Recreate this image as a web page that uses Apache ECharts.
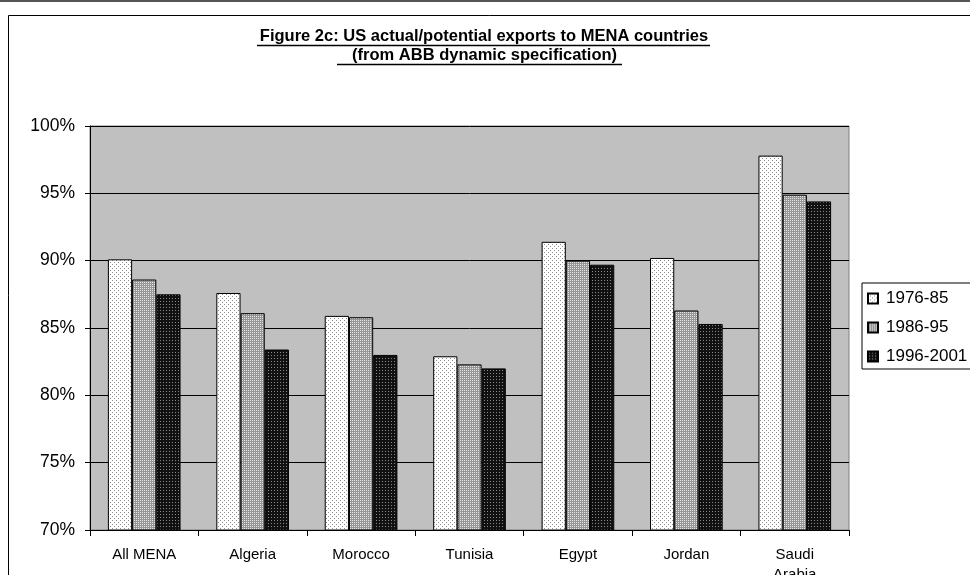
<!DOCTYPE html>
<html>
<head>
<meta charset="utf-8">
<script src="https://cdn.jsdelivr.net/npm/echarts@6/dist/echarts.min.js"></script>
<style>
  html, body { margin: 0; padding: 0; background: #fff; }
  #chart { width: 970px; height: 575px; }
</style>
</head>
<body>
<div id="chart"></div>
<script>
  const categories = ['All MENA', 'Algeria', 'Morocco', 'Tunisia', 'Egypt', 'Jordan', 'Saudi\nArabia'];
  const seriesNames = ['1976-85', '1986-95', '1996-2001'];
  const period1 = [90.1, 87.6, 85.9, 82.9, 91.4, 90.2, 97.8];
  const period2 = [88.6, 86.1, 85.8, 82.3, 90.0, 86.3, 94.9];
  const period3 = [87.5, 83.4, 83.0, 82.0, 89.7, 85.3, 94.4];
  const yMin = 70;
  const yMax = 100;
  const yStep = 5;

  // small dotted fills, like the old spreadsheet patterns
  function makePattern(bg, dot, size, dots) {
    const c = document.createElement('canvas');
    c.width = size;
    c.height = size;
    const ctx = c.getContext('2d');
    ctx.fillStyle = bg;
    ctx.fillRect(0, 0, size, size);
    ctx.fillStyle = dot;
    dots.forEach((p) => ctx.fillRect(p[0], p[1], 1, 1));
    return { image: c, repeat: 'repeat' };
  }

  const fills = [
    makePattern('#ffffff', '#8c8c8c', 4, [[0, 0], [2, 2]]),
    makePattern('#969696', '#e6e6e6', 2, [[0, 0]]),
    makePattern('#111111', '#8a8a8a', 3, [[1, 1]]),
  ];

  const chart = echarts.init(document.getElementById('chart'), null, { renderer: 'canvas' });
  const font = 'Liberation Sans, Arial, sans-serif';

  const option = {
    animation: false,
    backgroundColor: '#ffffff',
    graphic: [
      { type: 'line', shape: { x1: 0, y1: 1, x2: 970, y2: 1 }, style: { stroke: '#555', lineWidth: 2 } },
      { type: 'rect', shape: { x: 8.5, y: 15.5, width: 1000, height: 700 }, style: { fill: 'none', stroke: '#000', lineWidth: 1 } },
      {
        type: 'text', x: 484, y: 36,
        style: { text: 'Figure 2c: US actual/potential exports to MENA countries', font: 'bold 16.5px ' + font, fill: '#000', align: 'center', verticalAlign: 'middle' },
      },
      { type: 'line', shape: { x1: 257, y1: 45.5, x2: 710, y2: 45.5 }, style: { stroke: '#000', lineWidth: 1.5 } },
      {
        type: 'text', x: 480, y: 55,
        style: { text: '  (from ABB dynamic specification)', font: 'bold 16.5px ' + font, fill: '#000', align: 'center', verticalAlign: 'middle' },
      },
      { type: 'line', shape: { x1: 337, y1: 64.5, x2: 622, y2: 64.5 }, style: { stroke: '#000', lineWidth: 1.5 } },
    ],
    legend: {
      orient: 'vertical',
      left: 862,
      top: 283,
      padding: [7, 30, 4, 5],
      itemGap: 12,
      itemWidth: 10,
      itemHeight: 10,
      icon: 'rect',
      borderColor: '#000',
      borderWidth: 1,
      backgroundColor: '#fff',
      textStyle: { fontFamily: font, fontSize: 17, color: '#000', padding: [0, 0, 0, 3] },
      data: seriesNames,
    },
    grid: {
      left: 90, right: 121, top: 126, bottom: 45,
      outerBoundsMode: 'none', containLabel: false,
      show: true, backgroundColor: '#c0c0c0', borderColor: '#808080', borderWidth: 1,
    },
    xAxis: {
      type: 'category',
      data: categories,
      axisLine: { lineStyle: { color: '#000', width: 1 } },
      axisTick: { show: true, length: 6, lineStyle: { color: '#000' } },
      axisLabel: { fontFamily: font, fontSize: 15, color: '#000', margin: 15, lineHeight: 20 },
    },
    yAxis: {
      type: 'value',
      min: yMin,
      max: yMax,
      interval: yStep,
      axisLine: { show: true, lineStyle: { color: '#000', width: 1 } },
      axisTick: { show: true, length: 5, lineStyle: { color: '#000' } },
      axisLabel: { fontFamily: font, fontSize: 17.5, color: '#000', margin: 15, formatter: '{value}%' },
      splitLine: { show: true, lineStyle: { color: '#000', width: 1 } },
    },
    series: [period1, period2, period3].map((data, i) => ({
      name: seriesNames[i],
      type: 'bar',
      data,
      barGap: '0%',
      barCategoryGap: '33%',
      itemStyle: { color: fills[i], borderColor: '#000', borderWidth: 1 },
    })),
  };

  chart.setOption(option);
</script>
</body>
</html>
